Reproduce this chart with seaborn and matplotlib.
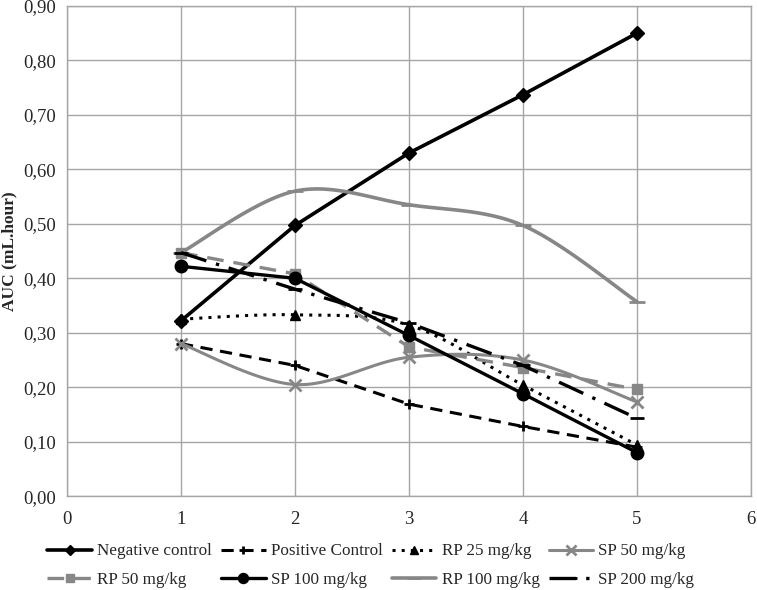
import numpy as np
import pandas as pd
import matplotlib
matplotlib.use('Agg')
import matplotlib.pyplot as plt
from matplotlib.lines import Line2D
from matplotlib.ticker import FuncFormatter, MultipleLocator
import seaborn as sns

# ─── DATA ─────────────────────────────────────────────────────────────────────

days = [1, 2, 3, 4, 5]
negative_control = [0.322, 0.497, 0.630, 0.737, 0.850]
positive_control = [0.280, 0.240, 0.169, 0.128, 0.090]
rp_25 = [0.325, 0.333, 0.314, 0.204, 0.094]
sp_50 = [0.280, 0.205, 0.255, 0.250, 0.173]
rp_50 = [0.447, 0.408, 0.274, 0.236, 0.196]
sp_100 = [0.422, 0.400, 0.295, 0.188, 0.080]
rp_100 = [0.447, 0.560, 0.535, 0.497, 0.357]
sp_200 = [0.447, 0.380, 0.318, 0.240, 0.143]

GRAY = '#878787'

# label, values, color, linestyle, marker, markersize, linewidth, smooth
series = [
    ('Negative control', negative_control, 'black', '-', 'D', 7, 2.6, False),
    ('Positive Control', positive_control, 'black', (0, (4, 2.5)), '+', 7, 2.2, False),
    ('RP 25 mg/kg', rp_25, 'black', (0, (1, 2)), '^', 7, 2.2, True),
    ('SP 50 mg/kg', sp_50, GRAY, '-', 'x', 9, 2.2, True),
    ('RP 50 mg/kg', rp_50, GRAY, (0, (5, 3)), 's', 7, 2.4, False),
    ('SP 100 mg/kg', sp_100, 'black', '-', 'o', 9, 2.4, False),
    ('RP 100 mg/kg', rp_100, GRAY, '-', '_', 12, 2.6, True),
    ('SP 200 mg/kg', sp_200, 'black', (0, (8, 3, 1, 3)), '_', 10, 2.4, False),
]


def smooth_curve(x, y, n=30):
    # Catmull-Rom style smoothing similar to Excel's "smoothed line"
    x = np.asarray(x, float)
    y = np.asarray(y, float)
    xs, ys = [], []
    for i in range(len(x) - 1):
        p0 = np.array([x[max(i - 1, 0)], y[max(i - 1, 0)]])
        p1 = np.array([x[i], y[i]])
        p2 = np.array([x[i + 1], y[i + 1]])
        p3 = np.array([x[min(i + 2, len(x) - 1)], y[min(i + 2, len(x) - 1)]])
        c1 = p1 + (p2 - p0) / 6
        c2 = p2 - (p3 - p1) / 6
        t = np.linspace(0, 1, n)[:, None]
        pts = ((1 - t) ** 3) * p1 + 3 * ((1 - t) ** 2) * t * c1 + 3 * (1 - t) * t ** 2 * c2 + t ** 3 * p2
        xs.extend(pts[:, 0])
        ys.extend(pts[:, 1])
    return np.array(xs), np.array(ys)


sns.set_style('white')
plt.rcParams['font.family'] = ['Liberation Serif', 'DejaVu Serif']

fig = plt.figure(figsize=(7.57, 5.90), dpi=100)
ax = fig.add_axes([0.0885, 0.159, 0.9035, 0.831])

handles = {}
for label, vals, color, ls, marker, ms, lw, smooth in series:
    mew = 2 if marker in ('x', '_', '+') else 1
    if smooth:
        sx, sy = smooth_curve(days, vals)
        sns.lineplot(x=sx, y=sy, ax=ax, color=color, linestyle=ls, linewidth=lw,
                     sort=False, estimator=None)
        sns.lineplot(x=days, y=vals, ax=ax, color=color, linestyle='none', marker=marker,
                     markersize=ms, markeredgewidth=mew, markeredgecolor=color, estimator=None)
    else:
        sns.lineplot(x=days, y=vals, ax=ax, color=color, linestyle=ls, linewidth=lw,
                     marker=marker, markersize=ms, markeredgecolor=color,
                     markeredgewidth=mew, estimator=None)
    handles[label] = Line2D([], [], color=color, linestyle=ls, linewidth=lw, marker=marker,
                            markersize=ms * 0.8, markeredgecolor=color, markeredgewidth=mew)

ax.set_xlim(0, 6)
ax.set_ylim(0, 0.9)
ax.xaxis.set_major_locator(MultipleLocator(1))
ax.yaxis.set_major_locator(MultipleLocator(0.1))
ax.yaxis.set_major_formatter(FuncFormatter(lambda v, p: f'{v:.2f}'.replace('.', ',')))
ax.grid(True, color='#a6a6a6', linewidth=1)
for s in ax.spines.values():
    s.set_color('#a6a6a6')
    s.set_linewidth(1)
ax.tick_params(axis='both', labelsize=13.5, length=0)
ax.tick_params(axis='x', pad=11)
ax.tick_params(axis='y', pad=8)
ax.set_ylabel('AUC (mL.hour)', fontsize=12.5, fontweight='bold', labelpad=4)

# legend laid out row by row (matplotlib fills columns first)
order = ['Negative control', 'RP 50 mg/kg', 'Positive Control', 'SP 100 mg/kg',
         'RP 25 mg/kg', 'RP 100 mg/kg', 'SP 50 mg/kg', 'SP 200 mg/kg']
fig.legend([handles[k] for k in order], order, loc='lower center', ncol=4,
           bbox_to_anchor=(0.49, 0.0), borderaxespad=0.0, borderpad=0.1,
           frameon=False, fontsize=12.3,
           handlelength=2.6, handletextpad=0.3, columnspacing=0.55, labelspacing=0.75)

fig.savefig('out.png', dpi=100)
